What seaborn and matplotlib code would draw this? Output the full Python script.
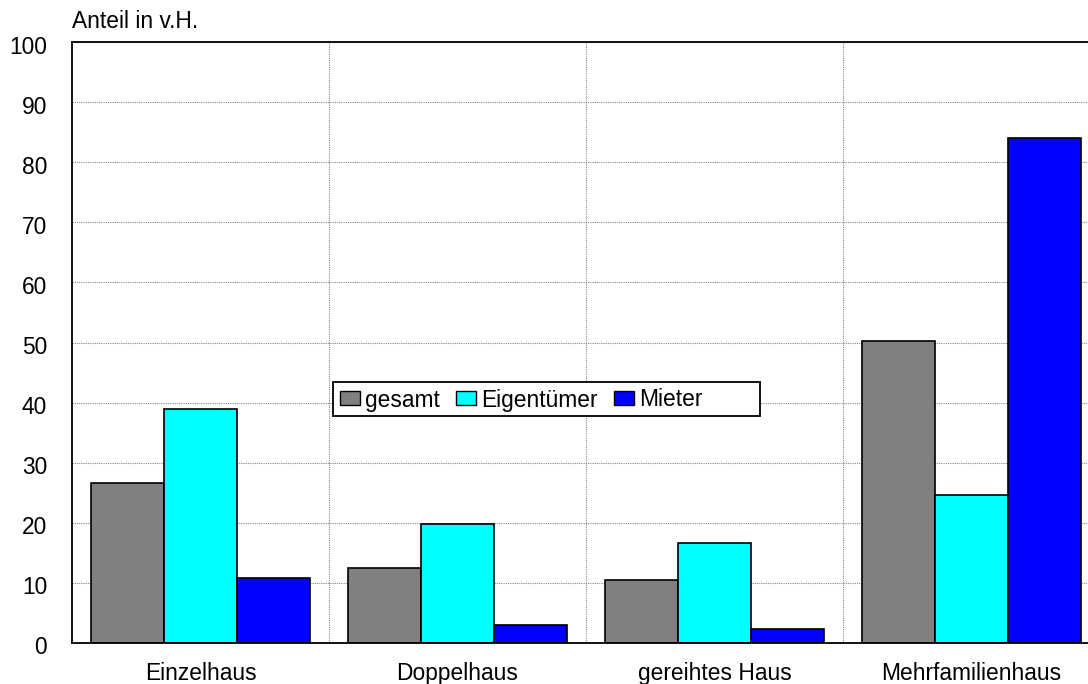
import matplotlib
matplotlib.use("Agg")
import matplotlib.pyplot as plt
import matplotlib.transforms as mtransforms
from matplotlib.patches import Rectangle
import seaborn as sns
import pandas as pd
from matplotlib.ticker import FixedLocator

categories = ["Einzelhaus", "Doppelhaus", "gereihtes Haus", "Mehrfamilienhaus"]
series_names = ["gesamt", "Eigentümer", "Mieter"]
gesamt = [26.7, 12.5, 10.5, 50.2]
eigentuemer = [38.9, 19.8, 16.6, 24.6]
mieter = [10.8, 3.0, 2.3, 84.0]
y_ticks = list(range(0, 101, 10))

df = pd.DataFrame({
    "Haustyp": categories * 3,
    "Gruppe": [series_names[0]] * 4 + [series_names[1]] * 4 + [series_names[2]] * 4,
    "Anteil": gesamt + eigentuemer + mieter,
})

sns.set_theme(style="white")
plt.rcParams["font.family"] = ["Liberation Sans", "DejaVu Sans"]
plt.rcParams["text.color"] = "black"
plt.rcParams["xtick.color"] = "black"
plt.rcParams["ytick.color"] = "black"

FS = 16.4

fig = plt.figure(figsize=(10.88, 6.84), dpi=100)
ax = fig.add_axes([72 / 1088, 41 / 684, 1028 / 1088, 601 / 684])

palette = {"gesamt": "#808080", "Eigentümer": "#00FFFF", "Mieter": "#0000FF"}
sns.barplot(data=df, x="Haustyp", y="Anteil", hue="Gruppe", order=categories,
            hue_order=series_names, palette=palette, width=0.85, saturation=1,
            edgecolor="black", linewidth=1.2, ax=ax)

ax.set_xlim(-0.5, 3.5)
ax.set_ylim(0, 100)
ax.set_yticks(y_ticks)
ax.set_yticklabels([str(t) for t in y_ticks], fontsize=FS)
ax.set_xticks(range(len(categories)))
ax.set_xticklabels(categories, fontsize=FS)
ax.tick_params(axis="x", length=0, pad=14)
ax.tick_params(axis="y", length=0, pad=18)
ax.set_xlabel("")
ax.set_ylabel("")

# y labels sit a little below their gridlines
shift = mtransforms.ScaledTranslation(0, -1.8 / 72, fig.dpi_scale_trans)
for lbl in ax.get_yticklabels():
    lbl.set_transform(lbl.get_transform() + shift)

# dotted grid: horizontal at every 10, vertical between categories
ax.xaxis.set_minor_locator(FixedLocator([0.5, 1.5, 2.5]))
ax.tick_params(axis="x", which="minor", length=0)
ax.grid(axis="y", which="major", color="#888888", linestyle=(0, (1, 1)), linewidth=0.8)
ax.grid(axis="x", which="minor", color="#888888", linestyle=(0, (1, 1)), linewidth=0.8)
ax.grid(axis="x", which="major", visible=False)
ax.set_axisbelow(True)

for side in ["left", "bottom", "top", "right"]:
    ax.spines[side].set_visible(True)
    ax.spines[side].set_color("black")
    ax.spines[side].set_linewidth(1.3)

ax.text(0, 1 + 9 / 601, "Anteil in v.H.", transform=ax.transAxes, fontsize=FS,
        ha="left", va="bottom")

# legend box drawn separately so its frame can extend past the last entry
frame = Rectangle(((333 - 72) / 1028, (643 - 416) / 601), (760 - 333) / 1028, 34 / 601,
                  transform=ax.transAxes, facecolor="white", edgecolor="black",
                  linewidth=1.3, zorder=4.5)
ax.add_patch(frame)

leg = ax.legend(loc="center left", bbox_to_anchor=((340 - 72) / 1028, (643 - 400) / 601),
                ncol=3, fontsize=FS, frameon=False, handlelength=0.88,
                handleheight=0.57, handletextpad=0.22, columnspacing=0.72,
                borderpad=0, borderaxespad=0)
leg.set_zorder(5)
for h in leg.legend_handles:
    h.set_edgecolor("black")
    h.set_linewidth(1.0)

fig.savefig("out.png", dpi=100)
